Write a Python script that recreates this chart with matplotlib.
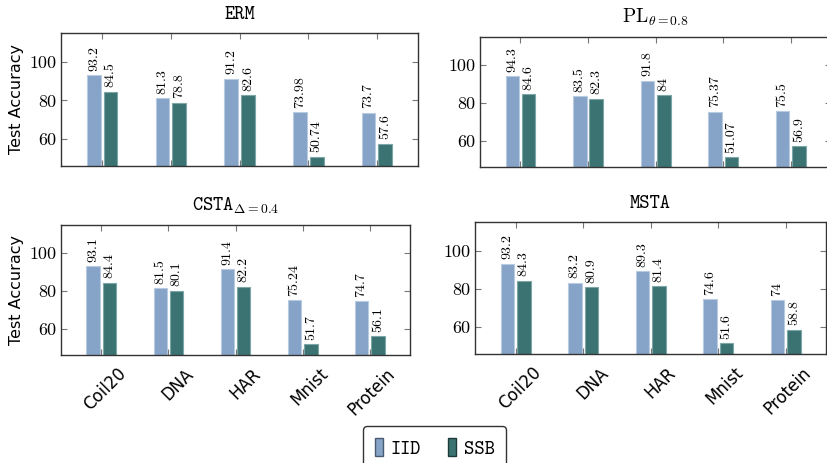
import numpy as np
import matplotlib
matplotlib.use("Agg")
import matplotlib.pyplot as plt
import matplotlib.transforms as mtrans
from matplotlib.patches import Patch

plt.rcParams['mathtext.fontset'] = 'cm'
plt.rcParams['axes.unicode_minus'] = False

# data
datasets = ['Coil20', 'DNA', 'HAR', 'Mnist', 'Protein']
titles = [r'ERM', r'$\mathrm{PL}_{\theta=0.8}$', r'CSTA$_{\Delta=0.4}$', r'MSTA']
iid = [
    [93.2, 81.3, 91.2, 73.98, 73.7],
    [94.3, 83.5, 91.8, 75.37, 75.5],
    [93.1, 81.5, 91.4, 75.24, 74.7],
    [93.2, 83.2, 89.3, 74.6, 74],
]
ssb = [
    [84.5, 78.8, 82.6, 50.74, 57.6],
    [84.6, 82.3, 84, 51.07, 56.9],
    [84.4, 80.1, 82.2, 51.7, 56.1],
    [84.3, 80.9, 81.4, 51.6, 58.8],
]
yticks = [60, 80, 100]

c_iid = '#86a3c8'
c_ssb = '#3b7373'
e_iid = '#b9cbe0'
e_ssb = '#7fa6a6'

fig = plt.figure(figsize=(8.28, 4.63), dpi=100)
# axes rects in figure fractions
rects = [
    [0.0737, 0.6415, 0.4313, 0.2872],
    [0.5797, 0.6393, 0.4240, 0.2808],
    [0.0737, 0.2333, 0.4215, 0.2807],
    [0.5737, 0.2354, 0.4240, 0.2851],
]

x = np.arange(len(datasets))
w = 0.2
off = 0.122

for k in range(4):
    ax = fig.add_axes(rects[k])
    ax.bar(x - off, iid[k], w, color=c_iid, edgecolor=e_iid, linewidth=0.8)
    ax.bar(x + off, ssb[k], w, color=c_ssb, edgecolor=e_ssb, linewidth=0.8)
    for xi, v in zip(x - off, iid[k]):
        ax.text(xi, v + 2.3, str(v), rotation=90, ha='center', va='bottom',
                fontsize=10, family='cmr10')
    for xi, v in zip(x + off, ssb[k]):
        ax.text(xi, v + 2.3, str(v), rotation=90, ha='center', va='bottom',
                fontsize=10, family='cmr10')
    ax.set_xlim(-0.6, 4.6)
    ax.set_ylim(46, 115)
    ax.set_yticks(yticks)
    ax.set_yticklabels([str(t) for t in yticks], fontsize=13, family='cmr10')
    ax.set_xticks(x)
    ax.tick_params(direction='in', top=True, right=True, length=4, color='#777777')
    ax.tick_params(axis='y', pad=3)
    ax.tick_params(axis='x', pad=7)
    if k >= 2:
        labs = ax.set_xticklabels(datasets, rotation=45, ha='right', rotation_mode='anchor',
                                  fontsize=12, family='DejaVu Sans')
        shift = mtrans.ScaledTranslation(16 / 100, 0, fig.dpi_scale_trans)
        for lab in labs:
            lab.set_transform(lab.get_transform() + shift)
    else:
        ax.set_xticklabels([])
    for s in ax.spines.values():
        s.set_color('#333333')
        s.set_linewidth(1.0)
    ax.set_title(titles[k], fontsize=14, family='cmtt10', pad=10)
    if k % 2 == 0:
        ax.set_ylabel('Test Accuracy', fontsize=11.5, family='DejaVu Sans', labelpad=4)

handles = [Patch(facecolor=c_iid, edgecolor='#4a5a70'), Patch(facecolor=c_ssb, edgecolor='#1f3a3a')]
fig.legend(handles, ['IID', 'SSB'], loc='lower center', bbox_to_anchor=(0.525, -0.037), ncol=2,
           prop={'family': 'cmtt10', 'size': 14}, handlelength=0.4, handleheight=1.1,
           handletextpad=0.4, columnspacing=1.4, edgecolor='#333333', fancybox=True,
           framealpha=1, borderpad=0.6)

fig.savefig('out.png', dpi=100)
